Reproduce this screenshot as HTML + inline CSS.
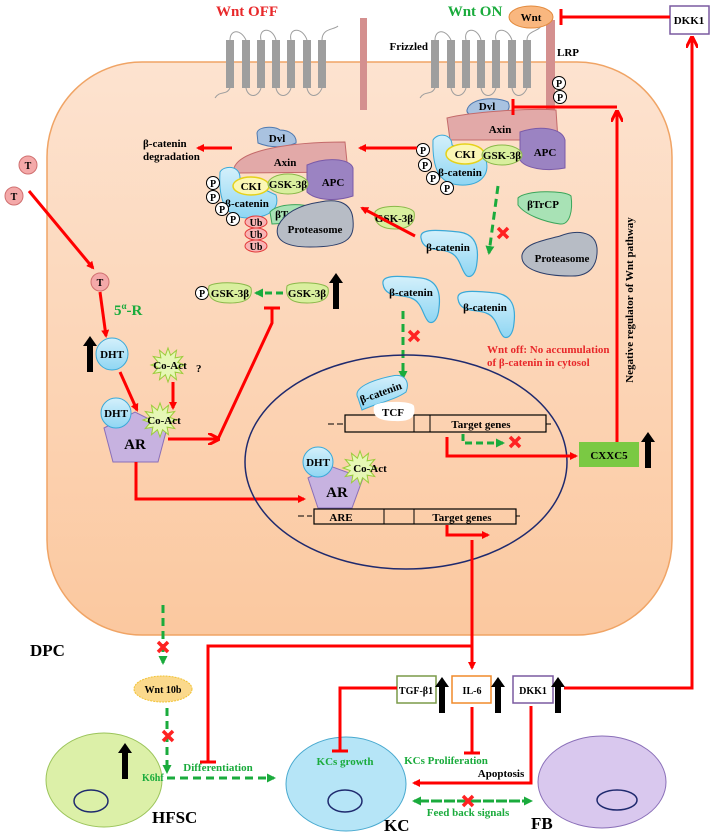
<!DOCTYPE html>
<html><head><meta charset="utf-8"><style>
html,body{margin:0;padding:0;background:#fff}
svg{display:block}
text{font-family:"Liberation Serif",serif;font-weight:bold}
</style></head><body>
<svg width="711" height="836" viewBox="0 0 711 836" xmlns="http://www.w3.org/2000/svg">
<defs>
<linearGradient id="cell" x1="0" y1="0" x2="0" y2="1"><stop offset="0" stop-color="#fde3d0"/><stop offset="1" stop-color="#fbc89f"/></linearGradient>
<linearGradient id="bl" x1="0" y1="0" x2="0" y2="1"><stop offset="0" stop-color="#d4f0fb"/><stop offset="1" stop-color="#8fd6f3"/></linearGradient>
<marker id="ar" markerWidth="8" markerHeight="8" refX="6" refY="4" orient="auto" markerUnits="userSpaceOnUse"><path d="M0,0 L8,4 L0,8 Z" fill="#f00"/></marker>
<marker id="ag" markerWidth="9" markerHeight="9" refX="7" refY="4.5" orient="auto" markerUnits="userSpaceOnUse"><path d="M0,0 L9,4.5 L0,9 Z" fill="#1aab3c"/></marker>
<marker id="aro" markerWidth="12" markerHeight="12" refX="10" refY="6" orient="auto" markerUnits="userSpaceOnUse"><path d="M0,0 L12,6 L0,12" fill="none" stroke="#f00" stroke-width="3"/></marker>
<g id="star"><polygon points="17,0 9.7,2.6 14.7,8.5 7.1,7.1 8.5,14.7 2.6,9.7 0,17 -2.6,9.7 -8.5,14.7 -7.1,7.1 -14.7,8.5 -9.7,2.6 -17,0 -9.7,-2.6 -14.7,-8.5 -7.1,-7.1 -8.5,-14.7 -2.6,-9.7 0,-17 2.6,-9.7 8.5,-14.7 7.1,-7.1 14.7,-8.5 9.7,-2.6" fill="#e6f7b5" stroke="#9bcc3a" stroke-width="1"/></g>
<g id="x"><path d="M-5,-5 L5,5 M5,-5 L-5,5" stroke="#f22" stroke-width="3.5"/></g>
<g id="up"><polygon points="-3,0 3,0 3,-26 7,-26 0,-36 -7,-26 -3,-26" fill="#000"/></g>
<g id="p"><circle r="6.5" fill="#fff" stroke="#000" stroke-width="1"/><text y="4" text-anchor="middle" font-size="10">P</text></g>
<g id="bcat"><path d="M-28,-10 C-30,-20 -10,-18 10,-16 C26,-14 30,-2 28,14 C27,26 22,30 18,28 C12,24 12,8 0,4 C-10,0 -26,4 -28,-10 Z" fill="url(#bl)" stroke="#3aa9d8" stroke-width="1.2"/></g>
</defs>

<rect x="47" y="62" width="625" height="573" rx="95" ry="95" fill="url(#cell)" stroke="#f0a465" stroke-width="1.5"/>

<text x="247" y="16" text-anchor="middle" font-size="15" fill="#e8282a">Wnt OFF</text>
<text x="475" y="16" text-anchor="middle" font-size="15" fill="#1aab3c">Wnt ON</text>

<g fill="#9e9e9e">
<rect x="226" y="40" width="8" height="48"/><rect x="242" y="40" width="8" height="48"/><rect x="257" y="40" width="8" height="48"/><rect x="272" y="40" width="8" height="48"/><rect x="287" y="40" width="8" height="48"/><rect x="303" y="40" width="8" height="48"/><rect x="318" y="40" width="8" height="48"/>
<rect x="431" y="40" width="8" height="48"/><rect x="447" y="40" width="8" height="48"/><rect x="462" y="40" width="8" height="48"/><rect x="477" y="40" width="8" height="48"/><rect x="492" y="40" width="8" height="48"/><rect x="508" y="40" width="8" height="48"/><rect x="523" y="40" width="8" height="48"/>
</g>
<g fill="none" stroke="#9e9e9e" stroke-width="1">
<path d="M230,40 C230,30 240,28 246,40 M261,40 C258,28 272,26 276,40 M291,40 C288,28 302,26 307,40 M322,40 C322,28 334,30 338,26"/>
<path d="M215,98 C220,90 226,96 230,88 M246,88 C248,98 258,98 261,88 M276,88 C278,98 288,98 291,88 M307,88 C309,98 318,98 322,88"/>
<path d="M435,40 C435,30 445,28 451,40 M466,40 C463,28 477,26 481,40 M496,40 C493,28 507,26 512,40 M527,40 C527,30 540,32 542,24"/>
<path d="M420,98 C425,90 431,96 435,88 M451,88 C453,98 463,98 466,88 M481,88 C483,98 493,98 496,88 M512,88 C514,98 523,98 527,88"/>
</g>
<rect x="360" y="18" width="7" height="92" fill="#d4908f"/>
<rect x="546" y="20" width="9" height="93" fill="#d4908f"/>
<text x="428" y="50" text-anchor="end" font-size="11">Frizzled</text>
<text x="568" y="56" text-anchor="middle" font-size="11">LRP</text>
<use href="#p" x="559" y="83"/><use href="#p" x="560" y="97"/>

<ellipse cx="531" cy="17" rx="22" ry="11" fill="#f9b77f" stroke="#e38a3c"/>
<text x="531" y="21" text-anchor="middle" font-size="11">Wnt</text>
<rect x="670" y="6" width="39" height="28" fill="#fff" stroke="#7a5aa0" stroke-width="1.5"/>
<text x="689" y="24" text-anchor="middle" font-size="11">DKK1</text>
<path d="M670,17 L561,17 M561,9 L561,25" stroke="#f00" stroke-width="3" fill="none"/>
<path d="M564,688 L692,688 L692,38" stroke="#f00" stroke-width="3" fill="none" marker-end="url(#aro)"/>

<path d="M467,110 C470,98 495,96 508,102 C512,110 505,116 490,116 C478,117 466,116 467,110Z" fill="#a9c2e0" stroke="#4f79b0"/>
<text x="487" y="110" text-anchor="middle" font-size="11">Dvl</text>
<path d="M447,118 C470,112 530,108 556,110 L558,140 L450,140 Z" fill="#e2a9a8" stroke="#c46a6a"/>
<text x="500" y="133" text-anchor="middle" font-size="11">Axin</text>
<path d="M520,132 C540,125 562,128 565,140 L565,168 C545,172 525,168 520,160 Z" fill="#9b83c2" stroke="#7a5aa8"/>
<text x="545" y="156" text-anchor="middle" font-size="11">APC</text>
<path d="M433,140 C438,132 452,134 452,145 L486,160 C490,175 480,186 460,185 C440,184 432,170 433,140Z" fill="url(#bl)" stroke="#3aa9d8"/>
<text x="460" y="176" text-anchor="middle" font-size="11">β-catenin</text>
<ellipse cx="465" cy="154" rx="19" ry="10" fill="#fbf7b5" stroke="#e6d21a" stroke-width="1.5"/>
<text x="465" y="158" text-anchor="middle" font-size="11">CKI</text>
<ellipse cx="502" cy="155" rx="20" ry="10" fill="#d9ef9e" stroke="#8ab84a"/>
<text x="502" y="159" text-anchor="middle" font-size="11">GSK-3β</text>
<use href="#p" x="423" y="150"/><use href="#p" x="425" y="165"/><use href="#p" x="433" y="178"/><use href="#p" x="447" y="188"/>

<path d="M257,133 C258,126 275,126 280,130 C290,130 297,136 296,143 C285,148 270,148 258,143Z" fill="#a9c2e0" stroke="#4f79b0"/>
<text x="277" y="142" text-anchor="middle" font-size="11">Dvl</text>
<path d="M234,168 C240,150 290,142 345,142 L348,172 L236,173 Z" fill="#e2a9a8" stroke="#c46a6a"/>
<text x="285" y="166" text-anchor="middle" font-size="11">Axin</text>
<path d="M307,165 C325,157 350,158 353,168 L353,196 C335,202 315,200 307,192 Z" fill="#9b83c2" stroke="#7a5aa8"/>
<text x="333" y="186" text-anchor="middle" font-size="11">APC</text>
<path d="M220,172 C224,165 240,165 240,178 L276,195 C280,208 270,218 248,218 C228,218 218,205 220,172Z" fill="url(#bl)" stroke="#3aa9d8"/>
<ellipse cx="251" cy="186" rx="18" ry="9" fill="#fbf7b5" stroke="#e6d21a" stroke-width="1.5"/>
<text x="251" y="190" text-anchor="middle" font-size="11">CKI</text>
<ellipse cx="288" cy="184" rx="20" ry="10" fill="#d9ef9e" stroke="#8ab84a"/>
<text x="288" y="188" text-anchor="middle" font-size="11">GSK-3β</text>
<path d="M270,212 C278,203 305,203 313,208 L310,222 L272,224 Z" fill="#a8e2b5" stroke="#3aa55a"/>
<text x="291" y="218" text-anchor="middle" font-size="11">βTrCP</text>
<path d="M278,226 C285,212 300,205 320,202 C340,198 352,204 353,220 C355,240 345,247 310,247 C285,247 274,240 278,226Z" fill="#b7bcc5" stroke="#2c3e6a"/>
<text x="315" y="233" text-anchor="middle" font-size="11">Proteasome</text>
<text x="247" y="207" text-anchor="middle" font-size="11">β-catenin</text>
<g fill="#f8b4b4" stroke="#e23a3a"><ellipse cx="256" cy="222" rx="11" ry="6"/><ellipse cx="256" cy="234" rx="11" ry="6"/><ellipse cx="256" cy="246" rx="11" ry="6"/></g>
<g font-size="10" text-anchor="middle"><text x="256" y="226">Ub</text><text x="256" y="238">Ub</text><text x="256" y="250">Ub</text></g>
<use href="#p" x="213" y="183"/><use href="#p" x="213" y="197"/><use href="#p" x="222" y="209"/><use href="#p" x="233" y="219"/>

<text x="143" y="147" font-size="11">β-catenin</text>
<text x="143" y="160" font-size="11">degradation</text>
<line x1="232" y1="148" x2="198" y2="148" stroke="#f00" stroke-width="3" marker-end="url(#ar)"/>
<line x1="417" y1="148" x2="360" y2="148" stroke="#f00" stroke-width="3" marker-end="url(#ar)"/>

<path d="M375,212 C380,204 410,205 414,212 C416,222 410,229 395,229 C380,229 373,222 375,212Z" fill="#d9ef9e" stroke="#8ab84a"/>
<text x="394" y="222" text-anchor="middle" font-size="11">GSK-3β</text>
<line x1="415" y1="236" x2="362" y2="208" stroke="#f00" stroke-width="3" marker-end="url(#ar)"/>
<line x1="498" y1="186" x2="489" y2="253" stroke="#1aab3c" stroke-width="3" stroke-dasharray="8,5" marker-end="url(#ag)"/>
<use href="#x" x="503" y="233"/>
<path d="M518,198 C525,190 565,190 571,196 C573,210 570,225 560,224 C545,222 525,215 518,205Z" fill="#a8e2b5" stroke="#3aa55a"/>
<text x="543" y="208" text-anchor="middle" font-size="11">βTrCP</text>
<path d="M522,255 C525,243 545,240 560,236 C575,230 595,230 597,248 C598,265 590,277 570,276 C545,276 520,270 522,255Z" fill="#b7bcc5" stroke="#2c3e6a"/>
<text x="562" y="262" text-anchor="middle" font-size="11">Proteasome</text>

<use href="#bcat" x="449" y="248"/><text x="448" y="251" text-anchor="middle" font-size="11">β-catenin</text>
<use href="#bcat" x="411" y="294"/><text x="411" y="296" text-anchor="middle" font-size="11">β-catenin</text>
<use href="#bcat" x="486" y="309"/><text x="485" y="311" text-anchor="middle" font-size="11">β-catenin</text>
<text x="487" y="353" font-size="11" fill="#e8282a">Wnt off: No accumulation</text>
<text x="487" y="366" font-size="11" fill="#e8282a">of β-catenin  in  cytosol</text>
<line x1="403" y1="311" x2="403" y2="378" stroke="#1aab3c" stroke-width="3" stroke-dasharray="8,5" marker-end="url(#ag)"/>
<use href="#x" x="414" y="336"/>

<path d="M617,442 L617,112" stroke="#f00" stroke-width="3" fill="none" marker-end="url(#aro)"/>
<path d="M617,107 L513,107 M513,99 L513,115" stroke="#f00" stroke-width="3" fill="none"/>
<text transform="translate(633,300) rotate(-90)" text-anchor="middle" font-size="11">Negative regulator of Wnt pathway</text>

<g><circle cx="28" cy="165" r="9" fill="#f4a9a9" stroke="#d07070"/><text x="28" y="169" text-anchor="middle" font-size="10">T</text>
<circle cx="14" cy="196" r="9" fill="#f4a9a9" stroke="#d07070"/><text x="14" y="200" text-anchor="middle" font-size="10">T</text>
<circle cx="100" cy="282" r="9" fill="#f4a9a9" stroke="#d07070"/><text x="100" y="286" text-anchor="middle" font-size="10">T</text></g>
<line x1="29" y1="191" x2="93" y2="268" stroke="#f00" stroke-width="3" marker-end="url(#ar)"/>
<line x1="100" y1="292" x2="106" y2="336" stroke="#f00" stroke-width="3" marker-end="url(#ar)"/>
<text x="114" y="315" font-size="15" fill="#1aab3c" font-family="Liberation Sans,sans-serif">5<tspan font-size="9" dy="-6">α</tspan><tspan dy="6">-R</tspan></text>
<use href="#up" x="90" y="372"/>
<circle cx="112" cy="354" r="16" fill="url(#bl)" stroke="#3aa9d8"/><text x="112" y="358" text-anchor="middle" font-size="11">DHT</text>
<use href="#star" x="168" y="365"/><text x="170" y="369" text-anchor="middle" font-size="11">Co-Act</text>
<text x="196" y="372" font-size="11">?</text>
<line x1="120" y1="372" x2="137" y2="410" stroke="#f00" stroke-width="3" marker-end="url(#ar)"/>
<line x1="173" y1="382" x2="173" y2="408" stroke="#f00" stroke-width="3" marker-end="url(#ar)"/>
<polygon points="104,428 135,412 167,428 158,462 113,462" fill="#c7b2e0" stroke="#8a6fb8"/>
<text x="135" y="449" text-anchor="middle" font-size="15">AR</text>
<circle cx="116" cy="413" r="15" fill="url(#bl)" stroke="#3aa9d8"/><text x="116" y="417" text-anchor="middle" font-size="11">DHT</text>
<use href="#star" x="160" y="420"/><text x="164" y="424" text-anchor="middle" font-size="11">Co-Act</text>
<path d="M168,439 L218,439" stroke="#f00" stroke-width="3" fill="none" marker-end="url(#aro)"/>
<path d="M218,439 L272,323 L272,308 M264,308 L280,308" stroke="#f00" stroke-width="3" fill="none"/>
<path d="M136,462 L136,499 L304,499" stroke="#f00" stroke-width="3" fill="none" marker-end="url(#ar)"/>

<use href="#p" x="202" y="293"/>
<path d="M209,286 C215,281 248,282 251,288 C253,298 246,303 230,303 C212,303 207,297 209,286Z" fill="#d9ef9e" stroke="#8ab84a"/>
<text x="230" y="297" text-anchor="middle" font-size="11">GSK-3β</text>
<path d="M287,286 C292,281 325,282 328,288 C330,298 323,303 307,303 C290,303 285,297 287,286Z" fill="#d9ef9e" stroke="#8ab84a"/>
<text x="307" y="297" text-anchor="middle" font-size="11">GSK-3β</text>
<line x1="283" y1="293" x2="256" y2="293" stroke="#1aab3c" stroke-width="3" stroke-dasharray="7,4" marker-end="url(#ag)"/>
<use href="#up" x="336" y="309"/>

<ellipse cx="406" cy="462" rx="161" ry="107" fill="none" stroke="#1f2a6e" stroke-width="1.5"/>
<path d="M328,424 L343,424" stroke="#000" stroke-dasharray="6,3"/>
<rect x="345" y="415" width="201" height="17" fill="none" stroke="#000" stroke-width="1.2"/>
<line x1="414" y1="415" x2="414" y2="432" stroke="#000"/><line x1="430" y1="415" x2="430" y2="432" stroke="#000"/>
<line x1="546" y1="424" x2="551" y2="424" stroke="#000"/>
<text x="481" y="428" text-anchor="middle" font-size="11">Target genes</text>
<path d="M358,398 C352,388 372,380 392,376 C405,373 410,382 406,392 C395,400 375,404 362,410 Z" fill="url(#bl)" stroke="#3aa9d8"/>
<text transform="translate(382,396) rotate(-20)" text-anchor="middle" font-size="11">β-catenin</text>
<path d="M374,406 C376,401 412,400 414,406 C416,416 412,422 395,421 C378,421 372,416 374,406Z" fill="#fff"/>
<text x="393" y="416" text-anchor="middle" font-size="11">TCF</text>
<path d="M463,434 L463,443 L503,443" stroke="#1aab3c" stroke-width="3" stroke-dasharray="7,4" fill="none" marker-end="url(#ag)"/>
<use href="#x" x="515" y="442"/>
<path d="M447,437 L447,456 L576,456" stroke="#f00" stroke-width="3" fill="none" marker-end="url(#ar)"/>
<rect x="579" y="442" width="60" height="25" fill="#7ac943"/>
<text x="609" y="459" text-anchor="middle" font-size="11">CXXC5</text>
<use href="#up" x="648" y="468"/>

<polygon points="308,478 330,466 363,478 352,508 318,508" fill="#c7b2e0" stroke="#8a6fb8"/>
<text x="337" y="497" text-anchor="middle" font-size="15">AR</text>
<circle cx="318" cy="462" r="15" fill="url(#bl)" stroke="#3aa9d8"/><text x="318" y="466" text-anchor="middle" font-size="11">DHT</text>
<use href="#star" x="360" y="468"/><text x="370" y="472" text-anchor="middle" font-size="11">Co-Act</text>
<path d="M298,516 L312,516" stroke="#000" stroke-dasharray="6,3"/>
<rect x="314" y="509" width="202" height="15" fill="none" stroke="#000" stroke-width="1.2"/>
<line x1="384" y1="509" x2="384" y2="524" stroke="#000"/><line x1="414" y1="509" x2="414" y2="524" stroke="#000"/>
<line x1="516" y1="516" x2="520" y2="516" stroke="#000"/>
<text x="341" y="521" text-anchor="middle" font-size="11">ARE</text>
<text x="462" y="521" text-anchor="middle" font-size="11">Target genes</text>
<path d="M447,525 L447,535 L488,535" stroke="#f00" stroke-width="3" fill="none" marker-end="url(#ar)"/>

<path d="M472,540 L472,668" stroke="#f00" stroke-width="3" fill="none" marker-end="url(#ar)"/>
<path d="M472,646 L208,646 L208,762 M200,762 L216,762" stroke="#f00" stroke-width="3" fill="none"/>
<text x="30" y="656" font-size="17">DPC</text>
<line x1="163" y1="605" x2="163" y2="663" stroke="#1aab3c" stroke-width="3" stroke-dasharray="8,5" marker-end="url(#ag)"/>
<use href="#x" x="163" y="647"/>
<ellipse cx="163" cy="689" rx="29" ry="13" fill="#fbd98c" stroke="#f1c232" stroke-dasharray="2,1"/>
<text x="163" y="693" text-anchor="middle" font-size="10">Wnt 10b</text>
<path d="M167,708 L167,772" stroke="#1aab3c" stroke-width="3" stroke-dasharray="8,5" fill="none" marker-end="url(#ag)"/>
<path d="M167,778 L274,778" stroke="#1aab3c" stroke-width="3" stroke-dasharray="8,5" fill="none" marker-end="url(#ag)"/>
<use href="#x" x="168" y="736"/>
<text x="218" y="771" text-anchor="middle" font-size="11" fill="#1aab3c">Differentiation</text>

<ellipse cx="104" cy="780" rx="58" ry="47" fill="#dcf0a8" stroke="#9bc45a"/>
<ellipse cx="91" cy="801" rx="17" ry="11" fill="none" stroke="#1f2a6e" stroke-width="1.5"/>
<use href="#up" x="125" y="779"/>
<text x="142" y="781" font-size="10" fill="#1aab3c">K6hf</text>
<text x="152" y="823" font-size="17">HFSC</text>

<ellipse cx="346" cy="784" rx="60" ry="47" fill="#b6e5f7" stroke="#48a9cf"/>
<ellipse cx="345" cy="801" rx="17" ry="11" fill="none" stroke="#1f2a6e" stroke-width="1.5"/>
<text x="384" y="831" font-size="17">KC</text>
<ellipse cx="602" cy="782" rx="64" ry="46" fill="#d9c8ee" stroke="#8a6fb8"/>
<ellipse cx="617" cy="800" rx="20" ry="10" fill="none" stroke="#1f2a6e" stroke-width="1.5"/>
<text x="531" y="829" font-size="17">FB</text>

<rect x="397" y="676" width="39" height="27" fill="#fff" stroke="#7a9a48" stroke-width="1.5"/>
<text x="416" y="694" text-anchor="middle" font-size="10">TGF-β1</text>
<use href="#up" x="442" y="713"/>
<rect x="452" y="676" width="39" height="27" fill="#fff" stroke="#f08a2a" stroke-width="1.5"/>
<text x="472" y="694" text-anchor="middle" font-size="10">IL-6</text>
<use href="#up" x="498" y="713"/>
<rect x="513" y="676" width="40" height="27" fill="#fff" stroke="#7a5aa0" stroke-width="1.5"/>
<text x="533" y="694" text-anchor="middle" font-size="10">DKK1</text>
<use href="#up" x="558" y="713"/>

<path d="M397,688 L340,688 L340,751 M332,751 L348,751" stroke="#f00" stroke-width="3" fill="none"/>
<text x="345" y="765" text-anchor="middle" font-size="11" fill="#1aab3c">KCs growth</text>
<path d="M472,707 L472,753 M464,753 L480,753" stroke="#f00" stroke-width="3" fill="none"/>
<text x="446" y="764" text-anchor="middle" font-size="11" fill="#1aab3c">KCs Proliferation</text>
<path d="M531,706 L531,783 L414,783" stroke="#f00" stroke-width="3" fill="none" marker-end="url(#ar)"/>
<text x="501" y="777" text-anchor="middle" font-size="11">Apoptosis</text>
<line x1="418" y1="801" x2="531" y2="801" stroke="#1aab3c" stroke-width="3" stroke-dasharray="8,5" marker-end="url(#ag)"/>
<line x1="520" y1="801" x2="414" y2="801" stroke="#1aab3c" stroke-width="3" stroke-dasharray="8,5" marker-end="url(#ag)"/>
<use href="#x" x="468" y="801"/>
<text x="468" y="816" text-anchor="middle" font-size="11" fill="#1aab3c">Feed back signals</text>
</svg>
</body></html>
